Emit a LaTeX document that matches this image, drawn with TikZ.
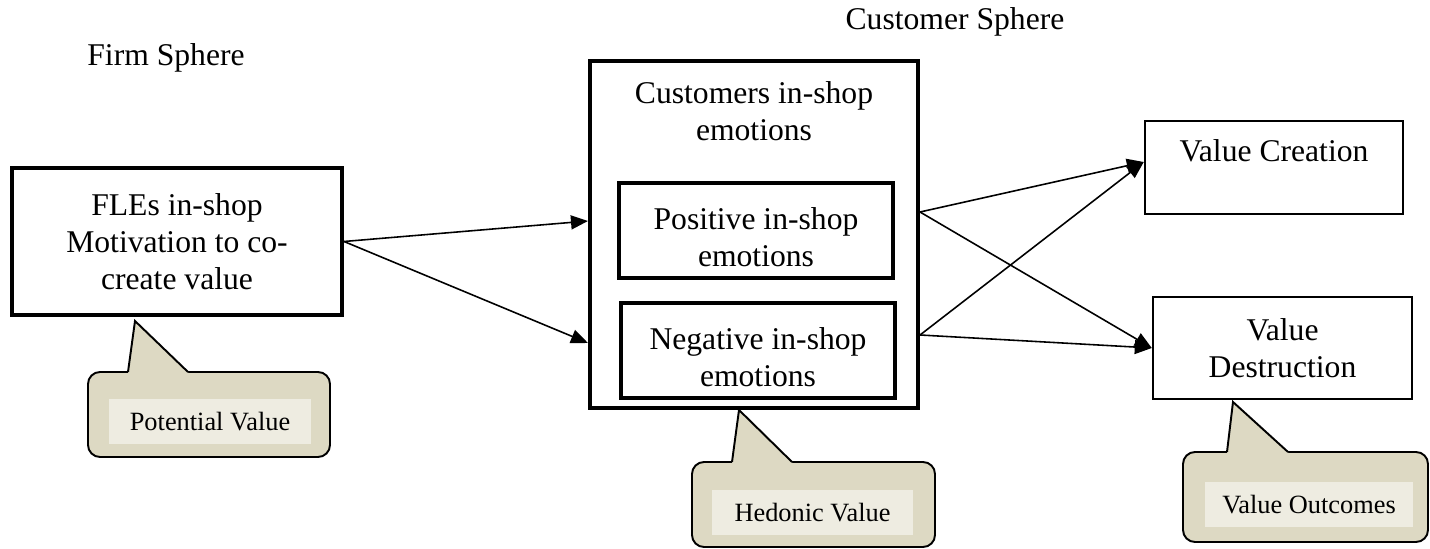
\documentclass[tikz,border=0pt]{standalone}
\usepackage{fontspec}
\setmainfont{Liberation Serif}
\definecolor{CalloutTan}  {RGB}{221,217,195}
\definecolor{CalloutLight}{RGB}{238,236,225}
\usetikzlibrary{arrows.meta,positioning,calc}

\begin{document}
\begin{tikzpicture}[every node/.style={font=\fontsize{18}{21}\selectfont},
    thickbox/.style={draw,line width=2.3pt,align=center},
    thinbox/.style={draw,line width=1.4pt,align=center},
    arrowline/.style={-{Triangle[length=0.34cm,width=0.28cm]},line width=0.9pt},
    callout/.style={draw,fill=CalloutTan,line width=1.1pt,rounded corners=0.24cm}]
  \useasboundingbox (0,0) rectangle (28.6,-10.98);
  %% Sphere headings
  \node (firm) at (3.32,-1.16) {Firm Sphere};
  \node (custsphere) at (19.1,-0.44) {Customer Sphere};
  %% Firm side
  \node[thickbox,minimum width=6.6cm,minimum height=2.94cm] (fle) at (3.54,-4.83)
    {FLEs in-shop\\Motivation to co-\\create value};
  %% Customer side
  \node[thickbox,minimum width=6.56cm,minimum height=6.94cm] (cust) at (15.08,-4.69) {};
  \node[below=0.33cm of cust.north,align=center] (custtitle) {Customers in-shop\\emotions};
  \node[thickbox,minimum width=5.48cm,minimum height=1.9cm] (pos) at (15.12,-4.61)
    {\rule{0pt}{0.72cm}Positive in-shop\\emotions};
  \node[thickbox,minimum width=5.48cm,minimum height=1.9cm] (neg) at (15.16,-7.01)
    {\rule{0pt}{0.72cm}Negative in-shop\\emotions};
  %% Outcomes
  \node[thinbox,minimum width=5.16cm,minimum height=1.86cm,text height=0.43cm,text depth=0.65cm]
    (vc) at (25.48,-3.35) {Value Creation};
  \node[thinbox,minimum width=5.18cm,minimum height=2.04cm] (vd) at (25.65,-6.96)
    {Value\\Destruction};
  %% Callouts
  \foreach \nm/\xa/\xb/\ya/\yb/\ba/\bb/\px/\py/\cx/\cy/\w/\txt in {
      potential/1.76/6.6/-7.44/-9.14/2.56/3.76/2.7/-6.42/4.2/-8.44/4.04/{Potential Value},
      hedonic/13.84/18.7/-9.24/-10.94/14.64/15.84/14.78/-8.2/16.25/-10.25/4.02/{Hedonic Value},
      outcomes/23.66/28.56/-9.04/-10.84/24.54/25.76/24.66/-8.04/26.18/-10.09/4.16/{Value Outcomes}}{
    \draw[callout] (\xa,\ya) rectangle (\xb,\yb);
    \fill[CalloutTan] (\ba,\ya) -- (\px,\py) -- (\bb,\ya) -- (\bb,\ya-0.06) -- (\ba,\ya-0.06) -- cycle;
    \draw[line width=1.1pt] (\ba,\ya) -- (\px,\py) -- (\bb,\ya);
    \node[fill=CalloutLight,minimum width=\w cm,minimum height=0.9cm,
          font=\fontsize{15}{18}\selectfont] (\nm) at (\cx,\cy) {\txt};
  }
  %% Connectors
  \coordinate (cin1) at (cust.west |- 0,-4.42);
  \coordinate (cin2) at (cust.west |- 0,-6.86);
  \coordinate (cout1) at (cust.east |- 0,-4.24);
  \coordinate (cout2) at (cust.east |- 0,-6.7);
  \coordinate (vcin) at (vc.west |- 0,-3.24);
  \draw[arrowline] (fle.east) -- (cin1);
  \draw[arrowline] (fle.east) -- (cin2);
  \draw[arrowline] (cout1) -- (vcin);
  \draw[arrowline] (cout1) -- (vd.west);
  \draw[arrowline] (cout2) -- (vcin);
  \draw[arrowline] (cout2) -- (vd.west);
\end{tikzpicture}
\end{document}
